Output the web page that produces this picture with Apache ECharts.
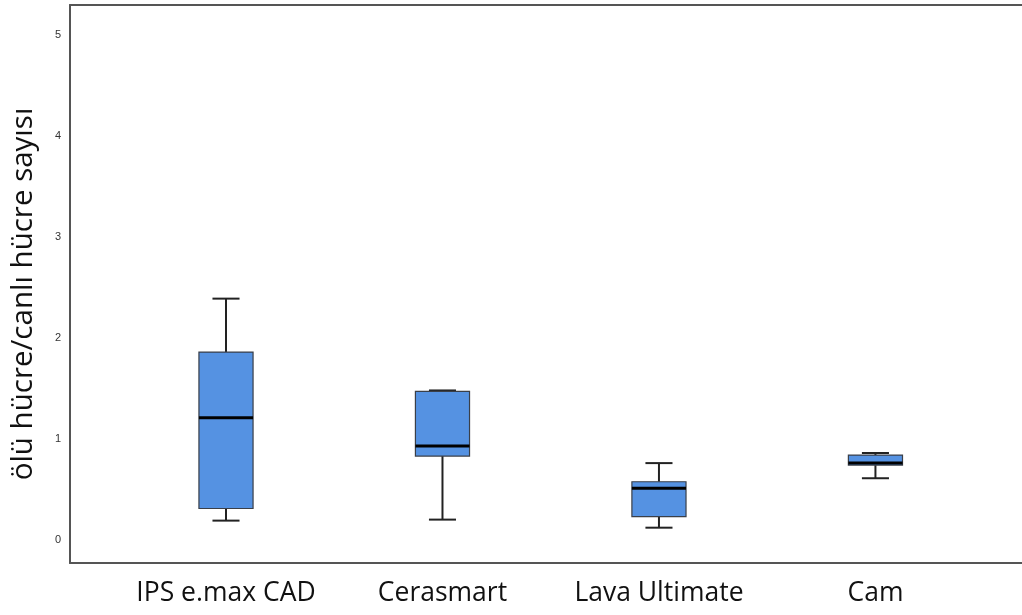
<!DOCTYPE html>
<html>
<head>
<meta charset="utf-8">
<script src="https://cdn.jsdelivr.net/npm/echarts@6/dist/echarts.min.js"></script>
<style>
  html, body { margin: 0; padding: 0; background: #fff; }
  #chart { width: 1022px; height: 615px; }
</style>
</head>
<body>
<div id="chart"></div>
<script>
// Groups and their five-number summaries
const categories = ['IPS e.max CAD', 'Cerasmart', 'Lava Ultimate', 'Cam'];
const whiskerLow = [0.19, 0.20, 0.12, 0.61];
const q1 = [0.31, 0.83, 0.23, 0.74];
const median = [1.21, 0.93, 0.51, 0.76];
const q3 = [1.86, 1.47, 0.575, 0.84];
const whiskerHigh = [2.39, 1.48, 0.76, 0.86];
const yTicks = [0, 1, 2, 3, 4, 5];
const yTitle = 'ölü hücre/canlı hücre sayısı';

const boxData = categories.map((c, i) => [i, whiskerLow[i], q1[i], median[i], q3[i], whiskerHigh[i]]);

function renderBox(params, api) {
  const x = api.value(0);
  const lo = api.coord([x, api.value(1)]);
  const b1 = api.coord([x, api.value(2)]);
  const md = api.coord([x, api.value(3)]);
  const b3 = api.coord([x, api.value(4)]);
  const hi = api.coord([x, api.value(5)]);
  const band = api.size([1, 0])[0];
  const bw = band * 0.25;
  const cw = bw * 0.5;
  const cx = lo[0];
  const wStyle = { stroke: '#222', lineWidth: 2 };
  return {
    type: 'group',
    children: [
      { type: 'line', shape: { x1: cx, y1: hi[1], x2: cx, y2: b3[1] }, style: wStyle },
      { type: 'line', shape: { x1: cx, y1: b1[1], x2: cx, y2: lo[1] }, style: wStyle },
      { type: 'line', shape: { x1: cx - cw / 2, y1: hi[1], x2: cx + cw / 2, y2: hi[1] }, style: wStyle },
      { type: 'line', shape: { x1: cx - cw / 2, y1: lo[1], x2: cx + cw / 2, y2: lo[1] }, style: wStyle },
      { type: 'rect', shape: { x: cx - bw / 2, y: b3[1], width: bw, height: b1[1] - b3[1] },
        style: { fill: '#5592e2', stroke: '#3a3f48', lineWidth: 1.2 } },
      { type: 'line', shape: { x1: cx - bw / 2, y1: md[1], x2: cx + bw / 2, y2: md[1] },
        style: { stroke: '#000', lineWidth: 3 } }
    ]
  };
}

const chart = echarts.init(document.getElementById('chart'));
chart.setOption({
  animation: false,
  grid: { left: 70, right: 0, top: 5, bottom: 52, outerBoundsMode: 'none', containLabel: false },
  xAxis: [
    {
      type: 'value', min: -0.7206, max: 3.677,
      axisLine: { show: true, onZero: false, lineStyle: { color: '#555', width: 2 } },
      axisTick: { show: false },
      splitLine: { show: false },
      axisLabel: {
        customValues: [0, 1, 2, 3],
        formatter: v => categories[Math.round(v)] || '',
        margin: 17, fontSize: 26.5, color: '#111',
        fontFamily: 'Open Sans'
      }
    },
    {
      type: 'value', position: 'top', min: -0.7206, max: 3.677,
      axisLine: { show: true, onZero: false, lineStyle: { color: '#555', width: 2 } },
      axisTick: { show: false }, axisLabel: { show: false }, splitLine: { show: false }
    }
  ],
  yAxis: {
    type: 'value', min: -0.23, max: 5.3,
    name: yTitle, nameLocation: 'middle', nameGap: 31,
    nameTextStyle: { fontSize: 29.5, color: '#111', fontFamily: 'Open Sans', padding: [0, 20, 0, 0] },
    axisLine: { show: true, onZero: false, lineStyle: { color: '#555', width: 2 } },
    axisTick: { show: false },
    splitLine: { show: false },
    axisLabel: {
      customValues: yTicks,
      margin: 9, fontSize: 11, color: '#333', fontFamily: 'Liberation Sans'
    }
  },
  series: [{
    type: 'custom',
    renderItem: renderBox,
    encode: { x: 0, y: [1, 2, 3, 4, 5] },
    data: boxData
  }]
});
</script>
</body>
</html>
